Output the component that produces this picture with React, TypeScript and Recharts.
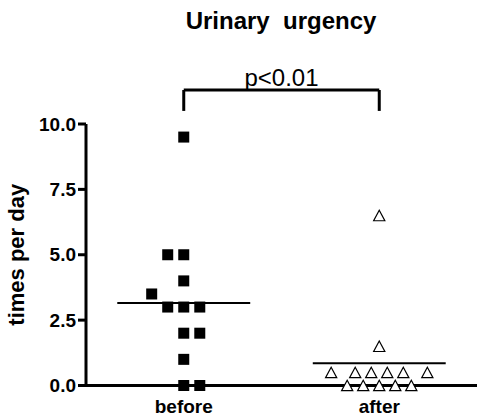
import React from 'react'
import { ScatterChart, Scatter, XAxis, YAxis, ReferenceLine } from 'recharts'

// groups and where they sit on the numeric x axis
const groups = ['before', 'after']
const groupCenters = [0.5, 1.5]

// values (times per day)
const beforeValues = [9.5, 5, 5, 4, 3.5, 3, 3, 3, 2, 2, 1, 0, 0]
const beforeSlots = [0, -1, 0, 0, -2, -1, 0, 1, 0, 1, 0, 0, 1]
const afterValues = [6.5, 1.5, 0.5, 0.5, 0.5, 0.5, 0.5, 0.5, 0, 0, 0, 0, 0]
const afterSlots = [0, 0, -3, -1.5, -0.5, 0.5, 1.5, 3, -2, -1, 0, 1, 2]

const yTicks = [0, 2.5, 5, 7.5, 10]
const title = 'Urinary\u00a0\u00a0urgency'
const pText = 'p<0.01'

const SLOT = 0.082 // horizontal spread of one symbol, in x units
const MEAN_HALF = 0.34
const FONT = 'Arial, "Liberation Sans", Helvetica, sans-serif'

const toPoints = (values: number[], slots: number[], center: number) =>
  values.map((y, i) => ({ x: center + slots[i] * SLOT, y }))

const mean = (v: number[]) => v.reduce((a, b) => a + b, 0) / v.length

const beforeData = toPoints(beforeValues, beforeSlots, groupCenters[0])
const afterData = toPoints(afterValues, afterSlots, groupCenters[1])

const Square = (props: any) => {
  const { cx, cy } = props
  return <rect x={cx - 5.5} y={cy - 5.5} width={11} height={11} fill="#000" />
}

const Triangle = (props: any) => {
  const { cx, cy } = props
  const w = 5.6
  const h = 5.2
  return (
    <polygon
      points={`${cx},${cy - h} ${cx + w},${cy + h} ${cx - w},${cy + h}`}
      fill="#fff"
      stroke="#000"
      strokeWidth={1.2}
    />
  )
}

const tickStyle = { fill: '#000', fontSize: 19, fontWeight: 'bold', fontFamily: FONT }

export default function App() {
  const beforeMean = mean(beforeValues)
  const afterMean = mean(afterValues)
  return (
    <div style={{ position: 'absolute', left: 0, top: 0, width: 478, height: 417, background: '#fff' }}>
      <div
        style={{
          position: 'absolute',
          left: 0,
          top: 7,
          width: 562,
          textAlign: 'center',
          fontFamily: FONT,
          fontWeight: 'bold',
          fontSize: 24,
          color: '#000',
          whiteSpace: 'pre',
        }}
      >
        {title}
      </div>
      <ScatterChart width={478} height={417} margin={{ top: 124, right: 1, bottom: 1.5, left: 0 }}>
        <XAxis
          type="number"
          dataKey="x"
          domain={[0, 2]}
          ticks={groupCenters}
          interval={0}
          tickFormatter={(v: number) => groups[groupCenters.indexOf(v)] ?? ''}
          axisLine={{ stroke: '#000', strokeWidth: 3 }}
          tickLine={{ stroke: '#000', strokeWidth: 2 }}
          tickSize={5}
          tickMargin={9}
          height={30}
          tick={tickStyle}
          allowDataOverflow
        />
        <YAxis
          type="number"
          dataKey="y"
          domain={[0, 10]}
          ticks={yTicks}
          interval={0}
          tickFormatter={(v: number) => v.toFixed(1)}
          axisLine={{ stroke: '#000', strokeWidth: 3 }}
          tickLine={{ stroke: '#000', strokeWidth: 3 }}
          tickSize={8}
          tickMargin={2}
          width={86}
          tick={tickStyle}
          label={{
            value: 'times per day',
            angle: -90,
            position: 'insideLeft',
            offset: 16,
            style: { textAnchor: 'middle', fill: '#000', fontSize: 22, fontWeight: 'bold', fontFamily: FONT },
          }}
        />
        <Scatter data={beforeData} shape={Square} isAnimationActive={false} />
        <Scatter data={afterData} shape={Triangle} isAnimationActive={false} />
        <ReferenceLine
          segment={[
            { x: groupCenters[0] - MEAN_HALF, y: beforeMean },
            { x: groupCenters[0] + MEAN_HALF, y: beforeMean },
          ]}
          stroke="#000"
          strokeWidth={2}
        />
        <ReferenceLine
          segment={[
            { x: groupCenters[1] - MEAN_HALF, y: afterMean },
            { x: groupCenters[1] + MEAN_HALF, y: afterMean },
          ]}
          stroke="#000"
          strokeWidth={2}
        />
        {/* significance bracket above the plot */}
        <ReferenceLine
          segment={[
            { x: groupCenters[0], y: 11.3 },
            { x: groupCenters[1], y: 11.3 },
          ]}
          stroke="#000"
          strokeWidth={3}
          ifOverflow="visible"
          label={{ value: pText, position: 'top', offset: 4, fill: '#000', fontSize: 24, fontFamily: FONT }}
        />
        <ReferenceLine
          segment={[
            { x: groupCenters[0], y: 11.3 },
            { x: groupCenters[0], y: 10.5 },
          ]}
          stroke="#000"
          strokeWidth={3}
          ifOverflow="visible"
        />
        <ReferenceLine
          segment={[
            { x: groupCenters[1], y: 11.3 },
            { x: groupCenters[1], y: 10.5 },
          ]}
          stroke="#000"
          strokeWidth={3}
          ifOverflow="visible"
        />
      </ScatterChart>
    </div>
  )
}
